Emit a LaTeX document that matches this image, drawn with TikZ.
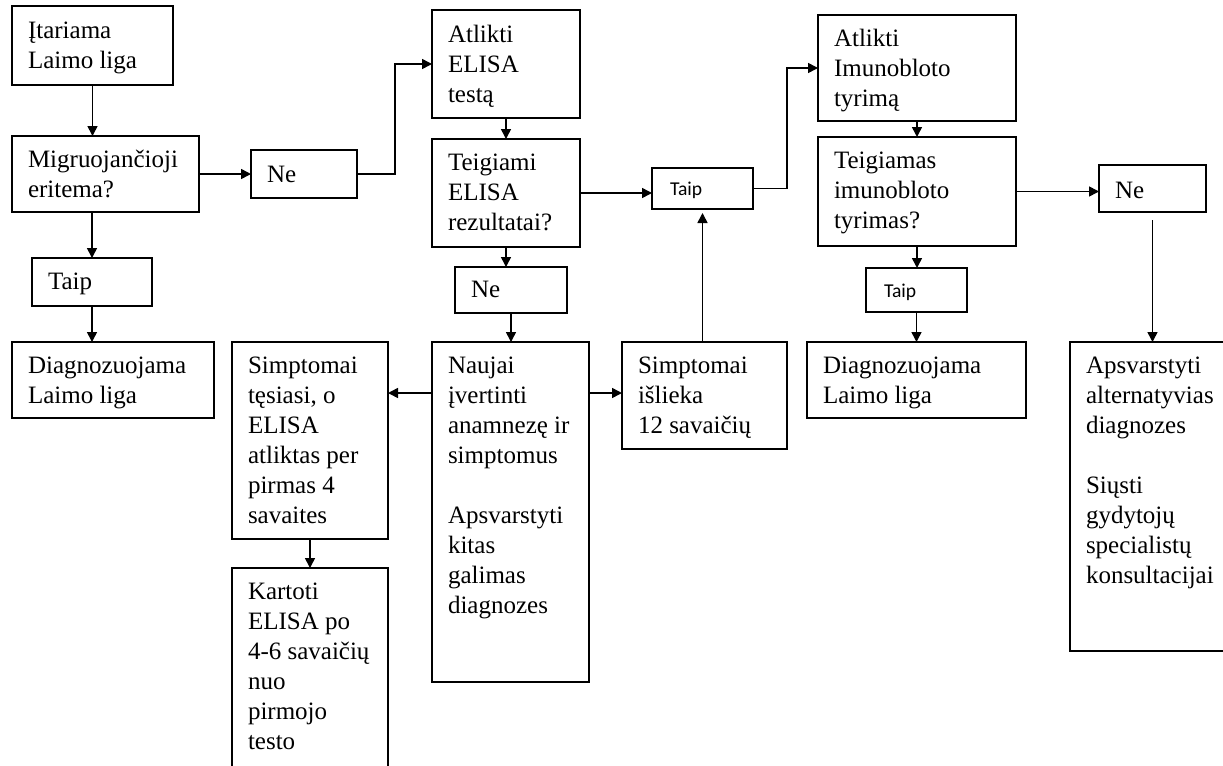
\documentclass[tikz,border=0pt]{standalone}
\usepackage{fontspec}
\setmainfont{Liberation Serif}
\newfontfamily\calib{Carlito}
\usetikzlibrary{arrows.meta}
\newdimen\unitpx \unitpx=0.5pt
% #1 width, #2 height, #3 first baseline, #4 text (serif, pad 16px)
\newcommand\boxtext[4]{\parbox[c][#2\unitpx][t]{\dimexpr#1\unitpx-32\unitpx\relax}{\raggedright\fontsize{12.5pt}{15pt}\selectfont\rule{0pt}{#3\unitpx}#4}}
\newcommand\sanstext[4]{\parbox[c][#2\unitpx][t]{\dimexpr#1\unitpx-36\unitpx\relax}{\raggedright\calib\fontsize{9.8pt}{12pt}\selectfont\rule{0pt}{#3\unitpx}#4}}
\tikzset{
  box/.style={draw, line width=0.85pt, inner xsep=8pt, inner ysep=0pt, outer sep=0pt, anchor=north west},
  sbox/.style={box, inner xsep=9pt},
  arr/.style={-{Triangle[length=5pt,width=5pt]}, line width=0.8pt}
}
\begin{document}
\begin{tikzpicture}[x=0.5pt,y=-0.5pt]
\clip (0,0) rectangle (1223,766);
\fill[white] (0,0) rectangle (1223,766);
% left column
\node[box] (a) at (12,6) {\boxtext{161}{79}{32}{Įtariama\\Laimo liga}};
\node[box] (b) at (12,136) {\boxtext{187}{76}{31}{Migruojančioji\\eritema?}};
\node[box] (ne1) at (251,150) {\boxtext{106}{48}{32}{Ne}};
\node[box] (taip1) at (32,258) {\boxtext{120}{48}{31}{Taip}};
\node[box] (diag1) at (12,342) {\boxtext{202}{76}{31}{Diagnozuojama\\Laimo liga}};
% ELISA column
\node[box] (elisa) at (432,10) {\boxtext{148}{108}{32}{Atlikti\\ELISA\\testą}};
\node[box] (teig) at (432,139) {\boxtext{148}{108}{31}{Teigiami\\ELISA\\rezultatai?}};
\node[box] (ne2) at (455,267) {\boxtext{112}{46}{30}{Ne}};
\node[sbox] (taip2) at (652,168) {\sanstext{101}{41}{27}{Taip}};
% lower row
\node[box] (tes) at (232,342) {\boxtext{156}{197}{31}{Simptomai\\tęsiasi, o\\ELISA\\atliktas per\\pirmas 4\\savaites}};
\node[box] (kart) at (232,568) {\boxtext{156}{215}{31}{Kartoti\\ELISA po\\4-6 savaičių\\nuo\\pirmojo\\testo}};
\node[box] (naujai) at (432,342) {\boxtext{157}{340}{31}{Naujai\\įvertinti\\anamnezę ir\\simptomus\\[30\unitpx]Apsvarstyti\\kitas\\galimas\\diagnozes}};
\node[box] (islieka) at (622,342) {\boxtext{165}{107}{31}{Simptomai\\išlieka\\12 savaičių}};
% immunoblot column
\node[box] (imuno) at (818,15) {\boxtext{198}{106}{31}{Atlikti\\Imunobloto\\tyrimą}};
\node[box] (teigim) at (818,137) {\boxtext{198}{109}{31}{Teigiamas\\imunobloto\\tyrimas?}};
\node[box] (ne3) at (1099,165) {\boxtext{107}{47}{33}{Ne}};
\node[sbox] (taip3) at (866,268) {\sanstext{101}{44}{29}{Taip}};
\node[box] (diag2) at (807,342) {\boxtext{219}{76}{31}{Diagnozuojama\\Laimo liga}};
\node[box] (aps) at (1070,342) {\boxtext{170}{309}{31}{Apsvarstyti\\alternatyvias\\diagnozes\\[30\unitpx]Siųsti\\gydytojų\\specialistų\\konsultacijai}};
% connectors
\draw[arr] (a.south) -- (a.south |- b.north);
\draw[arr] (b.south -| taip1.north) -- (taip1.north);
\draw[arr] (taip1.south) -- (taip1.south |- diag1.north);
\draw[arr] (b.east) -- (ne1.west);
\draw[arr] (ne1.east) -- ++(38,0) |- (elisa.west);
\draw[arr] (elisa.south) -- (teig.north);
\draw[arr] (teig.south) -- (teig.south |- ne2.north);
\draw[arr] (ne2.south) -- (ne2.south |- naujai.north);
\draw[arr] (teig.east) -- (teig.east -| taip2.west);
\draw[arr] (taip2.south |- islieka.north) -- ([yshift=-2pt]taip2.south);
\draw[arr] (taip2.east) -- ++(34,0) |- (imuno.west);
\draw[arr] (imuno.south) -- (teigim.north);
\draw[arr] (teigim.south) -- (teigim.south |- taip3.north);
\draw[arr] (taip3.south) -- (taip3.south |- diag2.north);
\draw[arr] (teigim.east) -- (teigim.east -| ne3.west);
\draw[arr] ([yshift=-4pt]ne3.south) -- (ne3.south |- aps.north);
\draw[arr] ([yshift=-25.5pt]naujai.north west) -- ([yshift=-25.5pt]tes.north east);
\draw[arr] ([yshift=-25.5pt]naujai.north east) -- ([yshift=-25.5pt]islieka.north west);
\draw[arr] (tes.south) -- (kart.north);
\end{tikzpicture}
\end{document}
